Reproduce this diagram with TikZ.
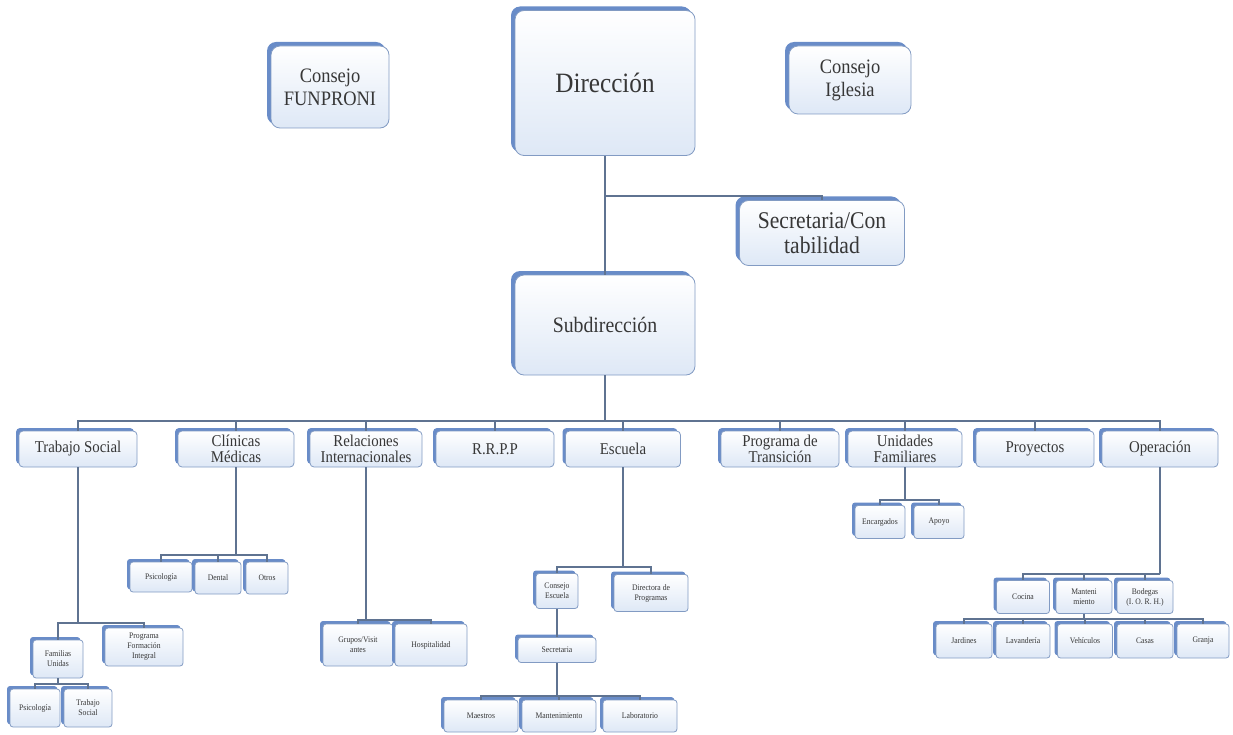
\documentclass[tikz,border=0pt]{standalone}
\usepackage{fontspec}
\setmainfont{Liberation Serif}[FakeStretch=0.9]
\usetikzlibrary{shadows}
\definecolor{boxborder}{RGB}{130,155,195}
\definecolor{boxfill}{RGB}{222,232,246}
\definecolor{shadowblue}{RGB}{105,140,200}
\definecolor{linecol}{RGB}{95,115,145}
\definecolor{textcol}{RGB}{55,55,55}
\tikzset{
  orgbox/.style={draw=boxborder, line width=0.8pt, rounded corners=4pt,
    top color=white, bottom color=boxfill,
    general shadow={fill=shadowblue, shadow xshift=-3pt, shadow yshift=3pt},
    align=center, text=textcol, inner sep=1pt},
  bigbox/.style={orgbox, rounded corners=9pt,
    general shadow={fill=shadowblue, shadow xshift=-4pt, shadow yshift=4pt},
    font=\fontsize{20.5}{23}\selectfont},
  lonebox/.style={orgbox, font=\fontsize{16.5}{16}\selectfont, minimum height=36pt},
  smallbox/.style={orgbox, rounded corners=3pt, font=\fontsize{8.5}{10}\selectfont,
    general shadow={fill=shadowblue, shadow xshift=-2.5pt, shadow yshift=2.5pt}},
  conn/.style={draw=linecol, line width=1.4pt}
}
\begin{document}
\begin{tikzpicture}[x=1pt,y=-1pt]
\useasboundingbox (0,0) rectangle (1233,735);
% top level
\node[bigbox, minimum width=118pt, minimum height=82pt] (fun) at (330,87) {Consejo\\FUNPRONI};
\node[bigbox, minimum width=180pt, minimum height=145pt, font=\fontsize{28}{32}\selectfont] (dir) at (605,83) {Dirección};
\node[bigbox, minimum width=122pt, minimum height=68pt] (igl) at (850,80) {Consejo\\Iglesia};
\node[bigbox, minimum width=165pt, minimum height=65pt, font=\fontsize{24}{25}\selectfont] (sec) at (822,233) {Secretaria/Con\\tabilidad};
\node[bigbox, minimum width=180pt, minimum height=100pt, font=\fontsize{22}{25}\selectfont] (sub) at (605,325) {Subdirección};
\coordinate (b0) at (605,196);
\draw[conn] (dir.south) -- (sub.north);
\draw[conn] (b0) -| (sec.north);
% level 1
\coordinate (bar) at (608,421);
\node[lonebox, minimum width=118pt] (ts) at (78,449) {Trabajo Social};
\node[lonebox, minimum width=116pt] (cm) at (236,449) {Clínicas\\Médicas};
\node[lonebox, minimum width=112pt] (ri) at (366,449) {Relaciones\\Internacionales};
\node[lonebox, minimum width=118pt] (rr) at (495,449) {R.R.P.P};
\node[lonebox, minimum width=115pt] (es) at (623,449) {Escuela};
\node[lonebox, minimum width=118pt] (pt) at (780,449) {Programa de\\Transición};
\node[lonebox, minimum width=114pt] (uf) at (905,449) {Unidades\\Familiares};
\node[lonebox, minimum width=118pt] (pr) at (1035,449) {Proyectos};
\node[lonebox, minimum width=116pt] (op) at (1160,449) {Operación};
\draw[conn] (sub.south) -- (sub.south |- bar);
\foreach \n in {ts,cm,ri,rr,es,pt,uf,pr,op}
  \draw[conn] (sub.south |- bar) -| (\n.north);
% Trabajo Social
\node[smallbox, minimum width=50pt, minimum height=38pt] (fam) at (58,659) {Familias\\Unidas};
\node[smallbox, minimum width=78pt, minimum height=38pt] (pfi) at (144,647) {Programa\\Formación\\Integral};
\coordinate (tsb) at (78,623);
\draw[conn] (ts.south) -- (tsb);
\draw[conn] (tsb) -| (fam.north);
\draw[conn] (tsb) -| (pfi.north);
\node[smallbox, minimum width=50pt, minimum height=38pt] (psi2) at (35,708) {Psicología};
\node[smallbox, minimum width=48pt, minimum height=38pt] (tso) at (88,708) {Trabajo\\Social};
\coordinate (famb) at (58,684);
\draw[conn] (fam.south) -- (famb);
\draw[conn] (famb) -| (psi2.north);
\draw[conn] (famb) -| (tso.north);
% Clinicas
\node[smallbox, minimum width=62pt, minimum height=30pt] (psi1) at (161,577) {Psicología};
\node[smallbox, minimum width=46pt, minimum height=32pt] (den) at (218,578) {Dental};
\node[smallbox, minimum width=42pt, minimum height=32pt] (otr) at (267,578) {Otros};
\coordinate (cmb) at (236,555);
\draw[conn] (cm.south) -- (cmb);
\foreach \n in {psi1,den,otr} \draw[conn] (cmb) -| (\n.north);
% Relaciones
\node[smallbox, minimum width=70pt, minimum height=42pt] (gru) at (358,645) {Grupos/Visit\\antes};
\node[smallbox, minimum width=72pt, minimum height=42pt] (hos) at (431,645) {Hospitalidad};
\coordinate (rib) at (366,620);
\draw[conn] (ri.south) -- (rib);
\foreach \n in {gru,hos} \draw[conn] (rib) -| (\n.north);
% Escuela
\node[smallbox, minimum width=42pt, minimum height=35pt] (ces) at (557,591) {Consejo\\Escuela};
\node[smallbox, minimum width=74pt, minimum height=37pt] (dpr) at (651,593) {Directora de\\Programas};
\coordinate (esb) at (623,567);
\draw[conn] (es.south) -- (esb);
\foreach \n in {ces,dpr} \draw[conn] (esb) -| (\n.north);
\node[smallbox, minimum width=78pt, minimum height=25pt] (sece) at (557,650) {Secretaria};
\draw[conn] (ces.south) -- (sece.north);
\node[smallbox, minimum width=74pt, minimum height=32pt] (mae) at (481,716) {Maestros};
\node[smallbox, minimum width=74pt, minimum height=32pt] (man) at (559,716) {Mantenimiento};
\node[smallbox, minimum width=74pt, minimum height=32pt] (lab) at (640,716) {Laboratorio};
\coordinate (secb) at (557,696);
\draw[conn] (sece.south) -- (secb);
\foreach \n in {mae,man,lab} \draw[conn] (secb) -| (\n.north);
% Unidades Familiares
\node[smallbox, minimum width=50pt, minimum height=33pt] (enc) at (880,522) {Encargados};
\node[smallbox, minimum width=50pt, minimum height=33pt] (apo) at (939,522) {Apoyo};
\coordinate (ufb) at (905,500);
\draw[conn] (uf.south) -- (ufb);
\foreach \n in {enc,apo} \draw[conn] (ufb) -| (\n.north);
% Operacion
\node[smallbox, minimum width=53pt, minimum height=33pt] (coc) at (1023,597) {Cocina};
\node[smallbox, minimum width=56pt, minimum height=33pt] (mnt) at (1084,597) {Manteni\\miento};
\node[smallbox, minimum width=56pt, minimum height=33pt] (bod) at (1145,597) {Bodegas\\(I. O. R. H.)};
\coordinate (opb) at (1160,574);
\draw[conn] (op.south) -- (opb);
\foreach \n in {coc,mnt,bod} \draw[conn] (opb) -| (\n.north);
\node[smallbox, minimum width=56pt, minimum height=34pt] (jar) at (964,641) {Jardines};
\node[smallbox, minimum width=54pt, minimum height=34pt] (lav) at (1023,641) {Lavandería};
\node[smallbox, minimum width=55pt, minimum height=34pt] (veh) at (1085,641) {Vehículos};
\node[smallbox, minimum width=56pt, minimum height=34pt] (cas) at (1145,641) {Casas};
\node[smallbox, minimum width=52pt, minimum height=34pt] (gra) at (1203,641) {Granja};
\coordinate (mntb) at (1084,619);
\draw[conn] (mnt.south) -- (mntb);
\foreach \n in {jar,lav,veh,cas,gra} \draw[conn] (mntb) -| (\n.north);
\end{tikzpicture}
\end{document}
